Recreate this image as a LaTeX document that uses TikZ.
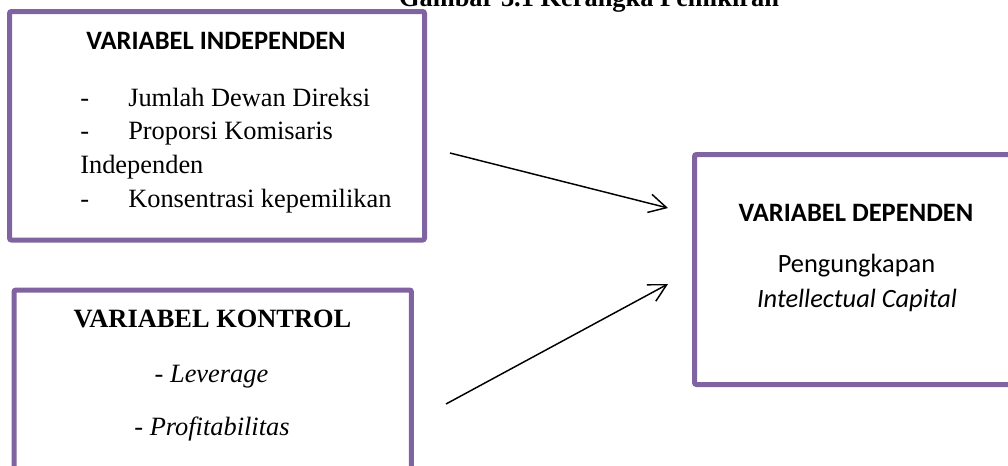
\documentclass[tikz,border=0pt]{standalone}
\usepackage{fontspec}
\setmainfont{Liberation Serif}
\newfontfamily\calibrifont{Carlito}
\usetikzlibrary{arrows.meta}
\definecolor{framepurple}{HTML}{8064A2}
\tikzset{
  varbox/.style={draw=framepurple, line width=3.75pt, rounded corners=1.5pt,
    inner sep=0pt, outer sep=0pt, anchor=north west},
  txt/.style={inner sep=0pt, anchor=base},
  txtleft/.style={inner sep=0pt, anchor=base west},
  serifbody/.style={font=\fontsize{19.8}{24}\selectfont},
  serifhead/.style={font=\fontsize{19.8}{24}\selectfont\bfseries},
  sanshead/.style={font=\calibrifont\fontsize{19.9}{24}\selectfont\bfseries},
  sansbody/.style={font=\calibrifont\fontsize{19.8}{24}\selectfont},
  link/.style={line width=1.1pt, -{Straight Barb[length=13pt,width=14pt]}}
}
\newcommand{\listdash}{\makebox[36pt][l]{-}}
\begin{document}
\begin{tikzpicture}[x=0.75pt, y=-0.75pt]
  \useasboundingbox (0,0) rectangle (1008,465);
  \clip (0,0) rectangle (1008,465);

  % caption
  \node[txt, serifhead] (caption) at (589,6.5) {Gambar 3.1 Kerangka Pemikiran};

  % frames
  \node[varbox, minimum width=311.25pt, minimum height=171.4pt] (indep) at (9.5,11.5) {};
  \node[varbox, minimum width=298.1pt, minimum height=150pt] (kontrol) at (14,290) {};
  \node[varbox, minimum width=255pt, minimum height=172.5pt] (dep) at (694.5,154.5) {};

  % independent variables
  \node[txt, sanshead] (indhead) at (216,49) {VARIABEL INDEPENDEN};
  \node[txtleft, serifbody] (ind1) at (80,106) {\listdash Jumlah Dewan Direksi};
  \node[txtleft, serifbody] (ind2) at (80,139.5) {\listdash Proporsi Komisaris};
  \node[txtleft, serifbody] (ind3) at (80,173) {Independen};
  \node[txtleft, serifbody] (ind4) at (80,207) {\listdash Konsentrasi kepemilikan};

  % control variables
  \node[txt, serifhead] (konhead) at (212.5,327) {VARIABEL KONTROL};
  \node[txt, serifbody] (kon1) at (211.5,382) {- \textit{Leverage}};
  \node[txt, serifbody] (kon2) at (212,435) {- \textit{Profitabilitas}};

  % dependent variable
  \node[txt, sanshead] (dephead) at (856,221) {VARIABEL DEPENDEN};
  \node[txt, sansbody] (dep1) at (856.5,272.5) {Pengungkapan};
  \node[txt, sansbody] (dep2) at (857,307.5) {\itshape Intellectual Capital};

  % arrows
  \coordinate (a1s) at (450,153);
  \coordinate (a1e) at (668,208);
  \coordinate (a2s) at (446,404);
  \coordinate (a2e) at (668,284);
  \draw[link] (a1s) -- (a1e);
  \draw[link] (a2s) -- (a2e);
\end{tikzpicture}
\end{document}
